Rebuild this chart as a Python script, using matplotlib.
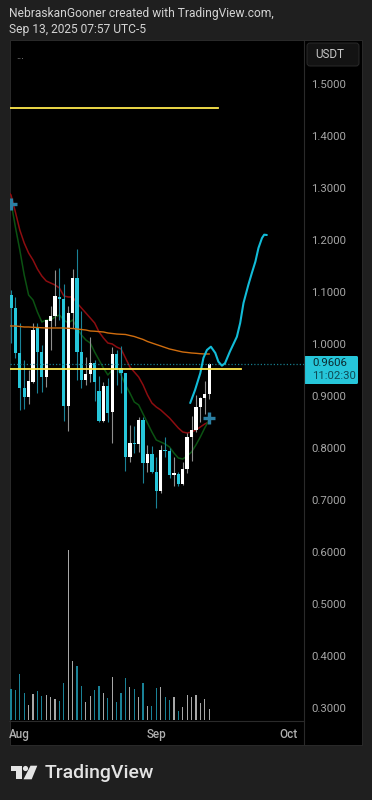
import matplotlib
matplotlib.use("Agg")
import matplotlib.pyplot as plt
from matplotlib.patches import Rectangle, Polygon, Circle, FancyBboxPatch
from matplotlib.transforms import ScaledTranslation

plt.rcParams['font.family'] = ['Roboto', 'DejaVu Sans']

# days counted from Aug 1 (index 0 = Jul 30)
days = list(range(-2, 44))

opens = [1.0942, 1.0692, 0.9827, 0.9154, 0.8981, 0.9269, 1.0308, 0.9846, 0.9365, 1.0442,
         1.0538, 1.0904, 1.0865, 0.8808, 1.0596, 1.1269, 0.9846, 0.9308, 0.9423, 0.9635,
         0.9096, 0.8519, 0.9192, 0.8692, 0.9808, 0.9538, 0.9442, 0.7827, 0.8096, 0.8077,
         0.8538, 0.7712, 0.7885, 0.7538, 0.7173, 0.7962, 0.7942, 0.7490, 0.7500, 0.7308,
         0.7596, 0.8212, 0.8346, 0.8788, 0.8962, 0.9038]
highs = [1.1038, 1.0904, 1.0404, 0.9692, 0.9500, 1.0404, 1.0404, 0.9981, 1.0462, 1.0731,
         1.1423, 1.1462, 1.1154, 1.0731, 1.1442, 1.1827, 1.0635, 0.9750, 1.0135, 0.9692,
         0.9385, 0.9269, 0.9346, 0.9942, 0.9885, 0.9962, 0.9442, 0.8442, 0.8423, 0.8596,
         0.8596, 0.8058, 0.8038, 0.7827, 0.8058, 0.8212, 0.8000, 0.7827, 0.7538, 0.7731,
         0.8288, 0.8615, 0.9019, 0.8981, 0.9288, 0.9635]
lows = [1.0019, 0.9731, 0.8731, 0.8750, 0.8846, 0.9250, 0.9058, 0.9077, 0.9173, 0.9885,
        1.0346, 1.0462, 0.8519, 0.8327, 1.0308, 0.9308, 0.9154, 0.9212, 0.9269, 0.8904,
        0.8500, 0.8500, 0.8500, 0.8096, 0.9212, 0.9058, 0.7558, 0.7731, 0.7904, 0.7923,
        0.7327, 0.7538, 0.7519, 0.6846, 0.7135, 0.7827, 0.7423, 0.7269, 0.7269, 0.7288,
        0.7519, 0.7750, 0.8308, 0.8500, 0.8654, 0.8942]
closes = [1.0692, 0.9827, 0.9154, 0.8981, 0.9288, 1.0269, 0.9846, 0.9365, 1.0462, 1.0538,
          1.0923, 1.0865, 0.8808, 1.0596, 1.1269, 0.9846, 0.9308, 0.9423, 0.9635, 0.9269,
          0.8519, 0.9192, 0.8673, 0.9808, 0.9500, 0.9442, 0.7827, 0.8096, 0.8077, 0.8538,
          0.7712, 0.7885, 0.7538, 0.7173, 0.7962, 0.7942, 0.7481, 0.7500, 0.7308, 0.7596,
          0.8212, 0.8346, 0.8788, 0.8962, 0.9038, 0.9606]
volumes = [31, 30, 46, 27, 15, 26, 29, 24, 25, 23, 21, 19, 37, 170, 59, 54, 34, 18, 24, 30,
           34, 27, 22, 43, 18, 27, 42, 33, 31, 23, 37, 14, 14, 32, 33, 23, 20, 23, 9, 13,
           25, 23, 25, 17, 21, 11]

red_ma = [1.2865, 1.2538, 1.2192, 1.1942, 1.1750, 1.1615, 1.1442, 1.1308, 1.1212, 1.1173,
          1.1135, 1.1077, 1.0923, 1.0904, 1.0904, 1.0788, 1.0692, 1.0596, 1.0500, 1.0404,
          1.0231, 1.0115, 1.0019, 1.0000, 0.9942, 0.9904, 0.9731, 0.9558, 0.9462, 0.9365,
          0.9212, 0.9019, 0.8865, 0.8788, 0.8731, 0.8654, 0.8577, 0.8481, 0.8385, 0.8308,
          0.8288, 0.8308, 0.8346, 0.8404, 0.8462, 0.8500]
green_ma = [1.2731, 1.2250, 1.1808, 1.1327, 1.0942, 1.0846, 1.0615, 1.0423, 1.0462, 1.0462,
            1.0519, 1.0558, 1.0462, 1.0404, 1.0462, 1.0308, 1.0173, 1.0077, 1.0019, 0.9846,
            0.9692, 0.9538, 0.9404, 0.9500, 0.9538, 0.9404, 0.9212, 0.9058, 0.8885, 0.8827,
            0.8654, 0.8481, 0.8308, 0.8154, 0.8115, 0.8077, 0.8019, 0.7904, 0.7808, 0.7788,
            0.7846, 0.7923, 0.8058, 0.8212, 0.8385, 0.8538]
orange_ma = [1.0346, 1.0346, 1.0337, 1.0327, 1.0327, 1.0321, 1.0317, 1.0312, 1.0308, 1.0308,
             1.0308, 1.0308, 1.0308, 1.0302, 1.0298, 1.0288, 1.0279, 1.0269, 1.0250, 1.0246,
             1.0238, 1.0231, 1.0212, 1.0202, 1.0192, 1.0187, 1.0183, 1.0163, 1.0144, 1.0115,
             1.0087, 1.0048, 1.0019, 0.9990, 0.9962, 0.9933, 0.9904, 0.9885, 0.9865, 0.9846,
             0.9837, 0.9827, 0.9821, 0.9813, 0.9808, 0.9808]

forecast_days = [38.7, 39.8, 41.0, 41.7, 42.5, 43.4, 44.4, 45.1, 45.9, 46.6, 47.7, 49.3,
                 50.05, 50.8, 51.9, 52.7, 53.5, 54.2, 55.0, 55.5, 56.1]
forecast_prices = [0.8865, 0.9115, 0.9442, 0.9731, 0.9885, 0.9948, 0.9827, 0.9660, 0.9583,
                   0.9629, 0.9852, 1.0140, 1.0404, 1.0788, 1.1135, 1.1365, 1.1583, 1.1846,
                   1.2038, 1.2102, 1.2096]

upper_level = 1.4538
upper_level_end = 44.9
lower_level = 0.9519
lower_level_end = 50.3
last_price = 0.9606
marker_days = [-2, 43]
marker_prices = [1.2683, 0.8571]

price_ticks = [1.5, 1.4, 1.3, 1.2, 1.1, 1.0, 0.9, 0.8, 0.7, 0.6, 0.5, 0.4, 0.3]
month_ticks = [0, 31, 61]
month_labels = ['Aug', 'Sep', 'Oct']

BG = '#1f1f1f'
UP = '#ffffff'
DOWN = '#26c6da'
UP_WICK = '#8f8f8f'
DOWN_WICK = '#1a8297'
W, H = 372, 800


def px_axes(fig, left, top, right, bottom):
    return fig.add_axes([left / W, 1 - bottom / H, (right - left) / W, (bottom - top) / H])


fig = plt.figure(figsize=(W / 100, H / 100), dpi=100, facecolor=BG)

# page furniture, drawn in pixel coordinates
page = fig.add_axes([0, 0, 1, 1], zorder=0)
page.set_xlim(0, W)
page.set_ylim(H, 0)
page.axis('off')
page.add_patch(Rectangle((9.5, 40), 352.5, 705, fc='#000000', ec='#2a2a2a', lw=0.7))
page.text(9, 14, 'NebraskanGooner created with TradingView.com,', color='#d4d4d4',
          fontsize=8.65, va='center')
page.text(9, 29, 'Sep 13, 2025 07:57 UTC-5', color='#d4d4d4', fontsize=8.65, va='center')

# logo
page.add_patch(Polygon([(11, 766), (22, 766), (22, 779), (16, 779), (16, 771), (11, 771)],
                       fc='#e4e4e4', ec='none'))
page.add_patch(Circle((25.5, 768.5), 2.6, fc='#e4e4e4', ec='none'))
page.add_patch(Polygon([(37.3, 765.7), (30.5, 765.7), (23.5, 779.3), (31.7, 779.3)],
                       fc='#e4e4e4', ec='none'))
page.text(44.5, 773, 'TradingView', color='#e4e4e4', fontsize=14, fontweight='medium',
          va='center')

# price chart
ax = px_axes(fig, 9.5, 40, 303.5, 721)
ax.patch.set_alpha(0)
ax.set_xlim(-2.34, 64.43)
ax.set_ylim(0.2750, 1.5846)

for side in ['top', 'left', 'right']:
    ax.spines[side].set_visible(False)
ax.spines['bottom'].set_color('#2a2a2a')

# volume, same area, own scale
vol = ax.twinx()
vol.set_ylim(-1, 680)
vol.axis('off')
vol.set_zorder(1)
vol_colors = ['#a8a8a8' if c >= o else DOWN_WICK for o, c in zip(opens, closes)]
vol.bar(days, volumes, width=0.27, color=vol_colors, linewidth=0)

ax.set_zorder(3)
ax.plot([-3] + days, [1.2962] + red_ma, color='#8c0d10', lw=1.1, zorder=2)
ax.plot([-3] + days, [1.2900] + green_ma, color='#0b5212', lw=1.1, zorder=2)

for d, o, h, l, c in zip(days, opens, highs, lows, closes):
    up = c >= o
    ax.vlines(d, l, h, color=UP_WICK if up else DOWN_WICK, lw=0.8, zorder=3)
    ax.bar(d, max(abs(c - o), 0.002), bottom=min(o, c), width=0.74,
           color=UP if up else DOWN, linewidth=0, zorder=4)

ax.plot([-3] + days, [1.0350] + orange_ma, color='#d06d0e', lw=1.0, zorder=5)
ax.plot(forecast_days, forecast_prices, color='#12bcd8', lw=1.5, zorder=6,
        solid_capstyle='round', solid_joinstyle='round')
ax.axhline(last_price, color='#167d8d', lw=0.9, ls=(0, (1, 1.6)), zorder=5)
ax.plot([-3, upper_level_end], [upper_level, upper_level], color='#ffe94d', lw=1.3, zorder=6)
ax.plot([-3, lower_level_end], [lower_level, lower_level], color='#ffe94d', lw=1.3, zorder=6)
ax.plot(marker_days, marker_prices, ls='none', marker='+', ms=8.2, mew=2.4,
        color='#2b7fa3', zorder=7)

ax.text(0.036, 0.976, '...', transform=ax.transAxes, color='#a0a0a0', fontsize=7,
        ha='center', va='center')

ax.yaxis.tick_right()
ax.set_yticks(price_ticks)
ax.set_yticklabels(['%.4f' % p for p in price_ticks], va='center')
ax.tick_params(axis='y', length=0, pad=5.8, colors='#a6a6a6', labelsize=8.2)
# nudge the price labels one pixel down
nudge = ScaledTranslation(0, -1 / 100, fig.dpi_scale_trans)
for label in ax.get_yticklabels():
    label.set_transform(label.get_transform() + nudge)
ax.set_xticks(month_ticks)
ax.set_xticklabels(month_labels, fontweight='medium')
ax.tick_params(axis='x', length=0, pad=5, colors='#b0b0b0', labelsize=8.4)

# price scale furniture on top of everything
over = fig.add_axes([0, 0, 1, 1], zorder=5)
over.set_xlim(0, W)
over.set_ylim(H, 0)
over.axis('off')
over.patch.set_alpha(0)
over.plot([303.5, 303.5], [40, 745], color='#2a2a2a', lw=0.8)
over.add_patch(FancyBboxPatch((307, 43), 52, 23, boxstyle='round,pad=0,rounding_size=3',
                              fc='#131313', ec='#2a2a2a', lw=0.7))
over.text(315, 55, 'USDT', color='#c8c8c8', fontsize=8.4, va='center')
over.add_patch(FancyBboxPatch((304, 356), 54, 28, boxstyle='round,pad=0,rounding_size=1.5',
                              fc='#26c6da', ec='none'))
over.text(312, 363.5, '0.9606', color='#0c2a30', fontsize=8.2, va='center')
over.text(312, 376, '11:02:30', color='#0f4a55', fontsize=8.2, va='center')

fig.savefig('out.png', dpi=100, facecolor=BG)
